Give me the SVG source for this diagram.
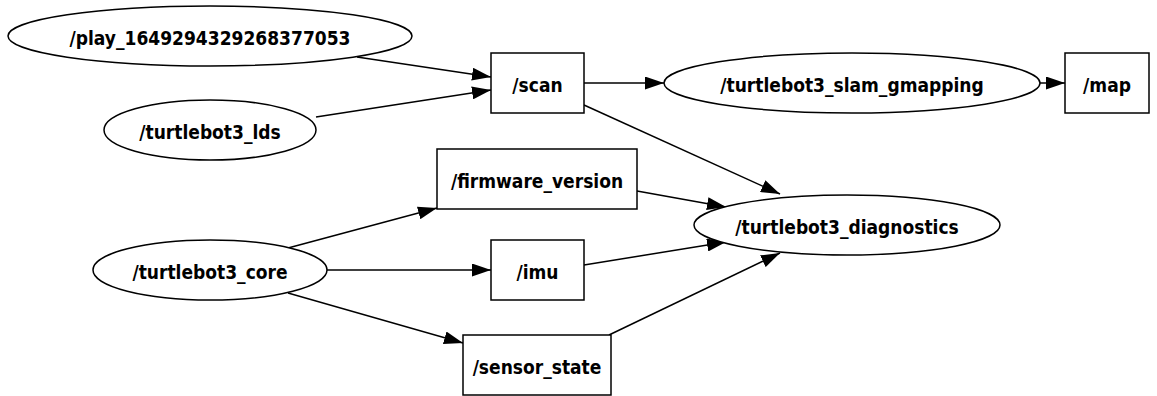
<svg xmlns="http://www.w3.org/2000/svg" width="1157" height="396" viewBox="0 0 1157 396">
<defs>
<marker id="ah" viewBox="0 0 10 10" refX="10" refY="5" markerWidth="19" markerHeight="13" markerUnits="userSpaceOnUse" orient="auto" preserveAspectRatio="none">
<path d="M0,0 L10,5 L0,10 Z" fill="#000"/>
</marker>
<style>
.n{fill:#fff;stroke:#000;stroke-width:1.5}
.t{font-family:"DejaVu Sans Condensed","DejaVu Sans",sans-serif;font-stretch:condensed;font-weight:bold;font-size:19px;text-anchor:middle;fill:#000}
.e{fill:none;stroke:#000;stroke-width:1.5;marker-end:url(#ah)}
</style>
</defs>
<rect width="1157" height="396" fill="#fff"/>
<g id="edges">
<path class="e" d="M357,57 L491,77"/>
<path class="e" d="M316,117 L491,90"/>
<path class="e" d="M584,83 L664,83"/>
<path class="e" d="M1040,83 L1065,83"/>
<path class="e" d="M584,105 L780,194"/>
<path class="e" d="M637,191 L726,207"/>
<path class="e" d="M584,265 L726,242"/>
<path class="e" d="M609,335 L780,253"/>
<path class="e" d="M288,248 L437,208"/>
<path class="e" d="M327,270 L491,270"/>
<path class="e" d="M288,293 L463,343"/>
</g>
<g id="play"><ellipse class="n" cx="210" cy="36" rx="202" ry="30"/><text class="t" x="210" y="45">/play_1649294329268377053</text></g>
<g id="lds"><ellipse class="n" cx="210" cy="130" rx="106" ry="30"/><text class="t" x="210" y="139">/turtlebot3_lds</text></g>
<g id="scan"><rect class="n" x="491" y="53" width="93" height="60"/><text class="t" x="537.5" y="92">/scan</text></g>
<g id="slam"><ellipse class="n" cx="852" cy="83" rx="188" ry="30"/><text class="t" x="852" y="92">/turtlebot3_slam_gmapping</text></g>
<g id="map"><rect class="n" x="1065" y="53" width="84" height="60"/><text class="t" x="1107" y="92">/map</text></g>
<g id="firmware"><rect class="n" x="437" y="149" width="200" height="60"/><text class="t" x="537" y="188">/firmware_version</text></g>
<g id="diagnostics"><ellipse class="n" cx="847" cy="225" rx="153" ry="30"/><text class="t" x="847" y="234">/turtlebot3_diagnostics</text></g>
<g id="core"><ellipse class="n" cx="210" cy="270" rx="117" ry="30"/><text class="t" x="210" y="279">/turtlebot3_core</text></g>
<g id="imu"><rect class="n" x="491" y="240" width="93" height="60"/><text class="t" x="537.5" y="279">/imu</text></g>
<g id="sensor_state"><rect class="n" x="463" y="335" width="148" height="60"/><text class="t" x="537" y="374">/sensor_state</text></g>
</svg>
